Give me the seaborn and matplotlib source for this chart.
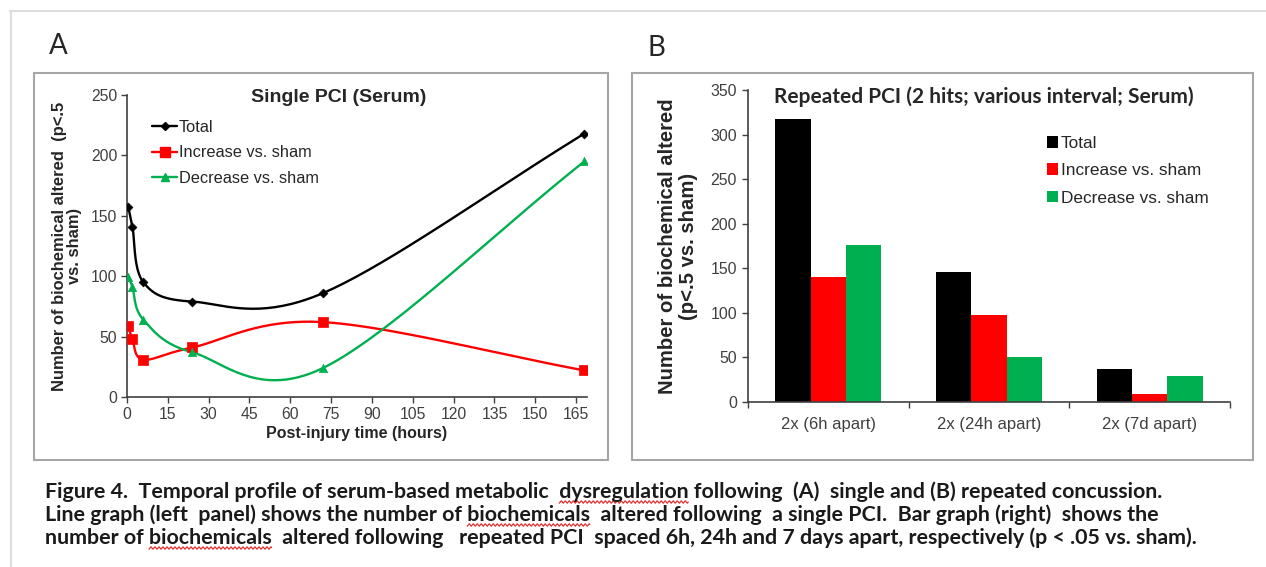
import numpy as np
import pandas as pd
import matplotlib
matplotlib.use('Agg')
import matplotlib.pyplot as plt
from matplotlib.patches import Rectangle
from matplotlib.lines import Line2D
import seaborn as sns

# 단일 PCI (Serum) - 시간별 변화
hours = [0.5, 2, 6, 24, 72, 168]
total_single = [157, 141, 95, 79, 86, 218]
increase_single = [59, 48, 31, 41, 62, 22]
decrease_single = [99, 91, 64, 37, 24, 195]

# 반복 PCI (2 hits)
intervals = ['2x (6h apart)', '2x (24h apart)', '2x (7d apart)']
total_rep = [318, 146, 37]
increase_rep = [140, 98, 9]
decrease_rep = [176, 50, 29]

series_names = ['Total', 'Increase vs. sham', 'Decrease vs. sham']
colors = ['#000000', '#ff0000', '#00b050']

caption = [
    'Figure 4.  Temporal profile of serum-based metabolic  dysregulation following  (A)  single and (B) repeated concussion.',
    'Line graph (left  panel) shows the number of biochemicals  altered following  a single PCI.  Bar graph (right)  shows the',
    'number of biochemicals  altered following   repeated PCI  spaced 6h, 24h and 7 days apart, respectively (p < .05 vs. sham).',
]
# 맞춤법 밑줄 (줄 번호, 단어)
spell_marks = [(0, 'dysregulation'), (1, 'biochemicals'), (2, 'biochemicals')]

sns.set_style('white')
plt.rcParams['font.family'] = ['Liberation Sans', 'DejaVu Sans']

W, H = 1266, 567
fig = plt.figure(figsize=(W / 100, H / 100), dpi=100)


def fx(px):
    return px / W


def fy(py):
    return 1 - py / H


# 엑셀식 부드러운 선 (베지어)
def smooth(xs, ys, n=40):
    p = np.column_stack([xs, ys]).astype(float)
    p = np.vstack([2 * p[0] - p[1], p, 2 * p[-1] - p[-2]])
    t = np.linspace(0, 1, n)[:, None]
    segs = []
    for i in range(1, len(p) - 2):
        p0, p1, p2, p3 = p[i - 1], p[i], p[i + 1], p[i + 2]
        c1 = p1 + (p2 - p0) / 6
        c2 = p2 - (p3 - p1) / 6
        seg = (1 - t) ** 3 * p1 + 3 * (1 - t) ** 2 * t * c1 + 3 * (1 - t) * t ** 2 * c2 + t ** 3 * p2
        segs.append(seg)
    s = np.vstack(segs)
    return s[:, 0], s[:, 1]


# 바깥 테두리와 패널 상자
fig.add_artist(Line2D([fx(10), fx(1266)], [fy(11), fy(11)], color='#dddddd', lw=1.5))
fig.add_artist(Line2D([fx(11), fx(11)], [fy(11), fy(567)], color='#dddddd', lw=1.5))
for x0, x1 in [(34, 608), (632, 1253)]:
    fig.add_artist(Rectangle((fx(x0), fy(460)), fx(x1) - fx(x0), fy(73) - fy(460),
                             transform=fig.transFigure, fill=False, ec='#a6a6a6', lw=1.5))

fig.text(fx(58), fy(46), 'A', fontsize=20, ha='center', va='center', family=['Lato', 'DejaVu Sans'])
fig.text(fx(656), fy(48), 'B', fontsize=20, ha='center', va='center', family=['Lato', 'DejaVu Sans'])

tick_color = '#404040'

# ---- A: 선 그래프 ----
ax1 = fig.add_axes([fx(127), fy(397), fx(587) - fx(127), fy(95) - fy(397)])
markers = ['D', 's', '^']
msizes = [4.5, 6.5, 6]
for vals, c, m, ms in zip([total_single, increase_single, decrease_single], colors, markers, msizes):
    sx, sy = smooth(hours, vals)
    sns.lineplot(x=sx, y=sy, sort=False, color=c, lw=1.7, ax=ax1, estimator=None)
    sns.scatterplot(x=hours, y=vals, color=c, marker=m, s=ms ** 2, edgecolor=c, linewidth=0.5, ax=ax1, zorder=5)

ax1.set_xlim(0, 169)
ax1.set_ylim(0, 250)
ax1.set_xticks(np.arange(0, 166, 15))
ax1.set_yticks(np.arange(0, 251, 50))
for s in ['top', 'right']:
    ax1.spines[s].set_visible(False)
for s in ['left', 'bottom']:
    ax1.spines[s].set_color('#404040')
    ax1.spines[s].set_linewidth(1.2)
ax1.tick_params(axis='both', direction='out', length=4, width=1, color='#404040',
                labelsize=11.3, labelcolor=tick_color, bottom=True, left=True, pad=3)
ax1.set_xlabel('Post-injury time (hours)', fontsize=11.5, fontweight='bold', labelpad=3)
ax1.set_ylabel('Number of biochemical altered  (p<.5\nvs. sham)', fontsize=11.9, fontweight='bold',
               labelpad=6, linespacing=1.05)
ax1.text(0.46, 0.993, 'Single PCI (Serum)', transform=ax1.transAxes, fontsize=14, fontweight='bold',
         ha='center', va='center', color='#262626')
handles = [Line2D([], [], color=c, marker=m, ms=ms, lw=1.7) for c, m, ms in zip(colors, markers, msizes)]
ax1.legend(handles, series_names, loc='upper left', bbox_to_anchor=(0.041, 0.94), frameon=False,
           fontsize=11.8, handlelength=1.5, handletextpad=0.1, labelspacing=0.65, borderaxespad=0)

# ---- B: 막대 그래프 ----
df = pd.DataFrame({
    'interval': intervals * 3,
    'series': sum([[n] * 3 for n in series_names], []),
    'value': total_rep + increase_rep + decrease_rep,
})
ax2 = fig.add_axes([fx(748), fy(402), fx(1230) - fx(748), fy(90) - fy(402)])
sns.barplot(data=df, x='interval', y='value', hue='series', palette=colors, width=0.66, gap=0,
            saturation=1, ax=ax2, edgecolor='none')
ax2.set_xlim(-0.5, 2.5)
ax2.set_ylim(0, 350)
ax2.set_yticks(np.arange(0, 351, 50))
for s in ['top', 'right']:
    ax2.spines[s].set_visible(False)
for s in ['left', 'bottom']:
    ax2.spines[s].set_color('#404040')
    ax2.spines[s].set_linewidth(1.2)
ax2.set_xticks([-0.5, 0.5, 1.5, 2.5], minor=True)
ax2.tick_params(axis='x', which='major', length=0, labelsize=12, labelcolor=tick_color, pad=11)
ax2.tick_params(axis='x', which='minor', direction='out', length=4, width=1, color='#404040', bottom=True)
ax2.tick_params(axis='y', direction='out', length=4, width=1, color='#404040', labelsize=11.4,
                labelcolor=tick_color, left=True, pad=4)
ax2.set_xlabel('')
ax2.set_ylabel('Number of biochemical altered\n(p<.5 vs. sham)', fontsize=14.6, fontweight='bold',
               labelpad=9, linespacing=1.15)
ax2.text(0.49, 0.978, 'Repeated PCI (2 hits; various interval; Serum)', transform=ax2.transAxes,
         fontsize=15, fontweight='bold', family=['Lato', 'DejaVu Sans'], ha='center', va='center',
         color='#262626')
ax2.legend(loc='upper left', bbox_to_anchor=(0.606, 0.875), frameon=False, fontsize=12.4,
           handlelength=0.65, handleheight=0.65, handletextpad=0.15, labelspacing=0.72, borderaxespad=0)

# ---- 캡션 ----
cap_kw = dict(fontsize=15.4, fontweight='bold', family=['Lato', 'DejaVu Sans'])
for i, line in enumerate(caption):
    fig.text(fx(45), fy(492 + 23 * i), line, ha='left', va='center', color='#1a1a1a', **cap_kw)

# 빨간 물결 밑줄
renderer = fig.canvas.get_renderer()


def text_width(s):
    t = fig.text(0, 0, s, **cap_kw)
    w = t.get_window_extent(renderer).width
    t.remove()
    return w


for i, word in spell_marks:
    line = caption[i]
    end = line.index(word) + len(word)
    x1 = 45 + text_width(line[:end])
    x0 = x1 - text_width(word)
    xs = np.arange(x0, x1, 0.5)
    ys = 492 + 23 * i + 10 + 1.2 * np.abs(((xs - x0) % 4) - 2) - 1.2
    fig.add_artist(Line2D(fx(xs), fy(ys), color='#e03030', lw=0.9))

fig.savefig('out.png', dpi=100)
